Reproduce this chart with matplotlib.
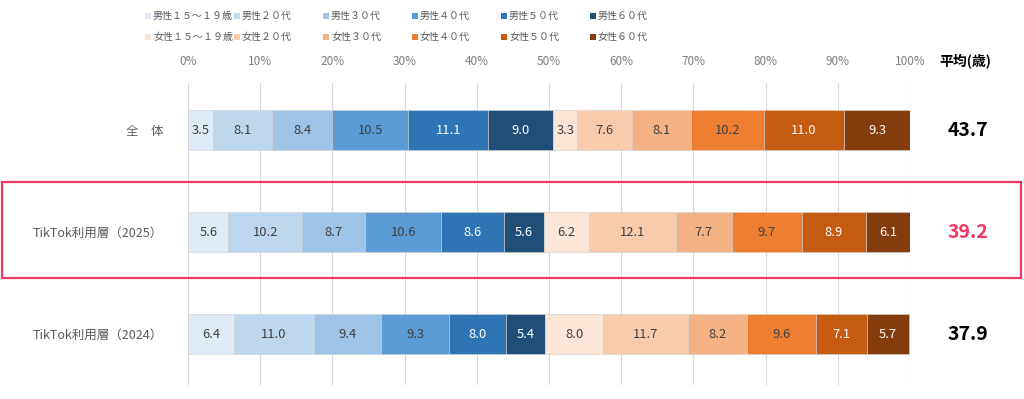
import matplotlib
matplotlib.use("Agg")
import matplotlib.pyplot as plt
from matplotlib.patches import Rectangle
from matplotlib.transforms import blended_transform_factory

plt.rcParams['font.family'] = ['Noto Sans CJK JP', 'DejaVu Sans']

categories = ["全　体", "TikTok利用層（2025）", "TikTok利用層（2024）"]
series_labels = ["男性１５～１９歳", "男性２０代", "男性３０代", "男性４０代", "男性５０代", "男性６０代",
                 "女性１５～１９歳", "女性２０代", "女性３０代", "女性４０代", "女性５０代", "女性６０代"]
values = [
    [3.5, 8.1, 8.4, 10.5, 11.1, 9.0, 3.3, 7.6, 8.1, 10.2, 11.0, 9.3],
    [5.6, 10.2, 8.7, 10.6, 8.6, 5.6, 6.2, 12.1, 7.7, 9.7, 8.9, 6.1],
    [6.4, 11.0, 9.4, 9.3, 8.0, 5.4, 8.0, 11.7, 8.2, 9.6, 7.1, 5.7],
]
averages = ["43.7", "39.2", "37.9"]
xticks = [0, 10, 20, 30, 40, 50, 60, 70, 80, 90, 100]
xtick_labels = [f"{t}%" for t in xticks]

colors = ["#DEEBF7", "#BDD7EE", "#9DC3E6", "#5B9BD5", "#2E75B6", "#1F4E79",
          "#FBE5D6", "#F8CBAD", "#F4B183", "#ED7D31", "#C55A11", "#843C0C"]
text_colors = ["#404040"] * 4 + ["white"] * 2 + ["#404040"] * 4 + ["white"] * 2
highlight = "#EE3A62"

W, H = 1024, 399
fig = plt.figure(figsize=(W / 100, H / 100), dpi=100)
left, right, top, bottom = 188, 910, 83, 385
ax = fig.add_axes([left / W, (H - bottom) / H, (right - left) / W, (bottom - top) / H])

for i, row in enumerate(values):
    start = 0.0
    for j, v in enumerate(row):
        ax.barh(i, v, left=start, height=0.39, color=colors[j],
                edgecolor="#D0D0D0", linewidth=0.4, zorder=2)
        ax.text(start + v / 2, i, f"{v:.1f}", ha="center", va="center",
                fontsize=9.3, color=text_colors[j], zorder=3)
        start += v

ax.set_xlim(0, 100)
ax.set_ylim(2.5, -0.461)
ax.set_xticks(xticks)
ax.set_xticklabels(xtick_labels)
ax.xaxis.tick_top()
ax.tick_params(axis="x", length=0, pad=10.5, labelsize=8.5, labelcolor="#7F7F7F")
ax.set_yticks(range(len(categories)))
ax.set_yticklabels(categories)
ax.tick_params(axis="y", length=0, pad=18, labelsize=9, labelcolor="#595959")
ax.grid(axis="x", color="#D9D9D9", linewidth=0.8, zorder=0)
ax.set_axisbelow(True)
for s in ax.spines.values():
    s.set_visible(False)

trans = blended_transform_factory(ax.transAxes, ax.transData)
xa = (968 - left) / (right - left)
for i, a in enumerate(averages):
    ax.text(xa, i, a, transform=trans, ha="center", va="center",
            fontsize=14, fontweight="bold",
            color=highlight if i == 1 else "black")
fig.text(965 / W, 1 - 62 / H, "平均(歳)", ha="center", va="center",
         fontsize=10, fontweight="bold", color="black")

# legend
x0, dx = 148, 89
for k, lab in enumerate(series_labels):
    r, c = divmod(k, 6)
    y = 16 + r * 21
    x = x0 + c * dx
    fig.patches.append(Rectangle(((x - 3) / W, 1 - (y + 3) / H), 6 / W, 6 / H,
                                 transform=fig.transFigure, facecolor=colors[k],
                                 edgecolor="none"))
    fig.text((x + 5) / W, 1 - y / H, lab, ha="left", va="center",
             fontsize=7.2, color="#595959")

# highlight box
fig.patches.append(Rectangle((2 / W, 1 - 278 / H), (1021 - 2) / W, (278 - 182) / H,
                             transform=fig.transFigure, facecolor="none",
                             edgecolor=highlight, linewidth=1.6, zorder=5))

fig.savefig("out.png", dpi=100)
